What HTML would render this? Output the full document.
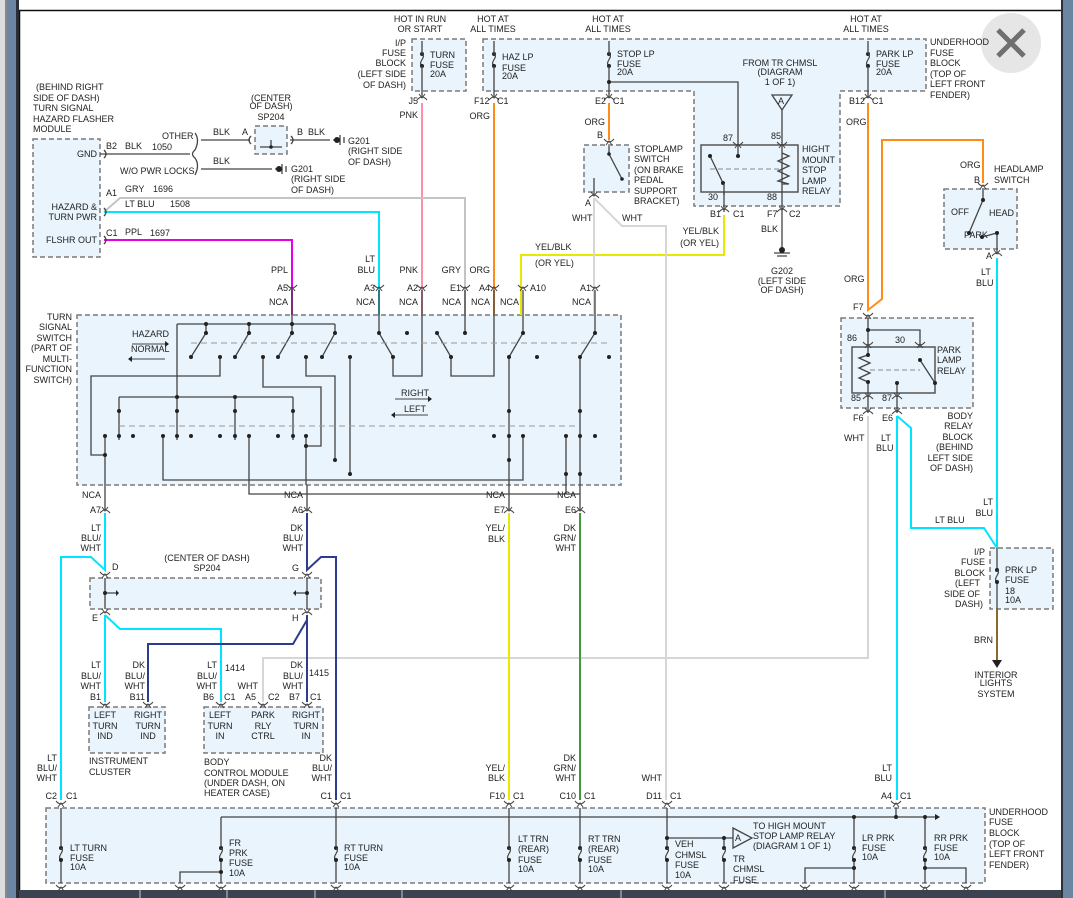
<!DOCTYPE html>
<html><head><meta charset="utf-8"><style>
html,body{margin:0;padding:0;background:#fff;}
svg{display:block;}
text{font-family:"Liberation Sans",sans-serif;font-size:9px;fill:#222;}
.b{fill:#e9f4fc;stroke:#7a7a7a;stroke-width:1.5;stroke-dasharray:5,3;}
.k{stroke:#444;stroke-width:1.3;fill:none;}
.w{fill:none;stroke-width:2;}
.d{fill:#222;}
</style></head><body>
<svg width="1073" height="898" viewBox="0 0 1073 898" xmlns="http://www.w3.org/2000/svg">
<defs>
<g id="c"><path d="M-5,3 Q0,-3 5,3 M-3,-3 L0,1 L3,-3" fill="none" stroke="#444" stroke-width="1"/></g>
<g id="cu"><path d="M-5,-3 Q0,3 5,-3 M-3,3 L0,-1 L3,3" fill="none" stroke="#444" stroke-width="1"/></g>
<g id="f"><circle cx="0" cy="0" r="2" fill="#222"/><path d="M0,0 C5,3 -5,8 0,12" fill="none" stroke="#444" stroke-width="1.2"/><circle cx="0" cy="12" r="2" fill="#222"/></g>
</defs>
<!-- frame -->
<rect x="0" y="0" width="1073" height="898" fill="#fff"/>
<rect x="0" y="0" width="5" height="898" fill="#ddd"/>
<rect x="5" y="0" width="2" height="898" fill="#888"/>
<rect x="7" y="0" width="9" height="898" fill="#6b86a3"/>
<rect x="16" y="0" width="3" height="898" fill="#2a2f38"/>
<line x1="19" y1="10.5" x2="1062" y2="10.5" stroke="#111" stroke-width="1.5"/>
<line x1="19.5" y1="10" x2="19.5" y2="898" stroke="#111" stroke-width="1.5"/>
<rect x="1061" y="0" width="2" height="898" fill="#2a2f38"/>
<rect x="1063" y="0" width="10" height="898" fill="#6b86a3"/>
<rect x="19" y="890" width="1042" height="8" fill="#3b4350"/>
<line x1="140" y1="890" x2="140" y2="898" stroke="#ccc"/><line x1="227" y1="890" x2="227" y2="898" stroke="#ccc"/><line x1="315" y1="890" x2="315" y2="898" stroke="#ccc"/><line x1="402" y1="890" x2="402" y2="898" stroke="#ccc"/><line x1="621" y1="890" x2="621" y2="898" stroke="#ccc"/><line x1="885" y1="890" x2="885" y2="898" stroke="#ccc"/>

<!-- boxes -->
<rect class="b" x="412" y="39" width="54" height="52"/>
<path class="b" d="M483,39 L926,39 L926,91 L840,91 L840,206 L694,206 L694,91 L483,91 Z"/>
<rect class="b" x="33" y="139" width="67" height="118"/>
<rect class="b" x="255" y="126" width="32" height="28"/>
<rect class="b" x="584" y="145" width="45" height="47"/>
<rect x="701" y="145" width="97" height="47" fill="#e9f4fc" stroke="#555" stroke-width="1.5"/>
<rect class="b" x="944" y="189" width="73" height="60"/>
<rect class="b" x="77" y="315" width="544" height="170"/>
<rect class="b" x="841" y="318" width="132" height="90"/>
<rect x="852" y="347" width="83" height="46" fill="#e9f4fc" stroke="#555" stroke-width="1.5"/>
<rect class="b" x="990" y="548" width="63" height="61"/>
<rect class="b" x="90" y="578" width="231" height="31"/>
<rect class="b" x="89" y="707" width="76" height="46"/>
<rect class="b" x="204" y="707" width="119" height="46"/>
<rect class="b" x="46" y="808" width="939" height="75"/>

<!-- close button -->
<circle cx="1011" cy="43" r="30" fill="#e6e6e6"/>
<path d="M998,30 L1024,56 M1024,30 L998,56" stroke="#6f6f6f" stroke-width="5"/>

<!-- colored wires -->
<path class="w" stroke="#ff8fa8" d="M422,103 V315"/>
<path class="w" stroke="#ff8c1a" d="M494,103 V315"/>
<path class="w" stroke="#ff8c1a" d="M609,103 V140"/>
<path class="w" stroke="#ff8c1a" d="M868,103 V310 L882,299 V140 H983 V183"/>
<path class="w" stroke="#c4c4c4" d="M104,212 L120,198 H465 V315"/>
<path class="w" stroke="#00e5ff" d="M104,212 H379 V315"/>
<path class="w" stroke="#e600e6" d="M104,240 H292 V315"/>
<path class="w" stroke="#e8e800" d="M724,215 V255 H521 V315"/>
<path class="w" stroke="#d6d6d6" d="M594,198 V315 M594,198 L622,226 H666 V800"/>
<path class="w" stroke="#d6d6d6" d="M868,416 V658 H263 V702"/>
<path class="w" stroke="#00e5ff" d="M997,258 V548 M897,416 V800 M897,416 L911,428 V528 H984 L997,548"/>
<path class="w" stroke="#8a6a2a" d="M997,609 V660"/>
<path class="w" stroke="#00e5ff" d="M105,513 V570 L91,557 H61 V800 M105,615 V702 M105,615 L120,629 H221 V702"/>
<path class="w" stroke="#2d3c8c" d="M307,513 V570 L321,557 H336 V800 M307,615 V702 M307,620 L293,644 H148 V702"/>
<path class="w" stroke="#e8e800" d="M509,513 V800"/>
<path class="w" stroke="#3f9a3f" d="M580,513 V800"/>
<path class="k" d="M105,485 V510 M307,485 V510 M509,485 V510 M580,485 V510" stroke-width="2"/>
<path class="k" d="M292,290 V315 M379,290 V315 M422,290 V315 M465,290 V315 M494,290 V315 M523,290 V315 M595,290 V315" stroke-width="1.8"/>

<!-- black wires -->
<path class="k" d="M100,154 H190 M201,140 H250 M290,140 H330 M201,169 H272"/>
<path class="k" d="M195,133 Q200,140 195,150 Q190,154 195,158 Q200,165 195,175"/>
<path class="k" d="M271,140 V147 M260,147 H282"/>
<circle cx="271" cy="147" r="1.8" class="d"/>
<path class="k" d="M333,140 H337 M340,135 V145 M344,137 V143" stroke-width="2"/><circle cx="337" cy="140" r="3" class="d"/>
<path class="k" d="M275,169 H279 M282,164 V174 M286,166 V172" stroke-width="2"/><circle cx="279" cy="169" r="3" class="d"/>
<use href="#f" x="422" y="54"/><path class="k" d="M422,41 V54 M422,66 V97"/>
<use href="#f" x="494" y="54"/><path class="k" d="M494,41 V54 M494,66 V97"/>
<use href="#f" x="609" y="54"/><path class="k" d="M609,41 V54 M609,66 V97 M609,82 H738 V145"/><circle cx="609" cy="82" r="2" class="d"/>
<use href="#f" x="868" y="54"/><path class="k" d="M868,41 V54 M868,66 V97"/>
<path class="k" d="M782,110 V145 M772,95 H792 L782,110 Z"/><text x="778" y="104" font-size="8">A</text>
<path class="k" d="M782,192 V252 M774,253 H790 M777,256 H787"/><circle cx="782" cy="250" r="3" class="d"/>
<path class="k" d="M724,192 V212"/>
<!-- relay internals -->
<path class="k" d="M710,156 L723,183 M738,145 V156 M782,145 V192"/><circle cx="710" cy="156" r="2" class="d"/><circle cx="723" cy="183" r="2" class="d"/><circle cx="738" cy="156" r="2" class="d"/>
<path d="M710,169 H782" stroke="#888" stroke-dasharray="5,3"/>
<path class="k" d="M782,153 L789,156 L778,161 L789,166 L778,171 L789,176 L778,181 L789,184 L782,184"/>
<path class="k" d="M724,183 V195"/>
<!-- stoplamp switch -->
<path class="k" d="M609,146 V154 L622,179 M594,178 V195"/><circle cx="609" cy="154" r="1.8" class="d"/><circle cx="622" cy="179" r="1.8" class="d"/>
<!-- headlamp switch -->
<path class="k" d="M983,188 V200 L969,233 M982,237 L997,233 V253"/><circle cx="983" cy="200" r="2" class="d"/><circle cx="969" cy="233" r="2" class="d"/><circle cx="982" cy="237" r="2" class="d"/><circle cx="997" cy="233" r="2" class="d"/>
<!-- park relay -->
<path class="k" d="M868,318 V347 M868,330 H920 V347 M868,393 V413 M897,393 V413 M920,360 L935,383 M897,383 V393"/><circle cx="868" cy="330" r="2" class="d"/><circle cx="920" cy="360" r="2" class="d"/><circle cx="935" cy="383" r="2" class="d"/><circle cx="897" cy="383" r="2" class="d"/>
<path class="k" d="M868,355 L859,358 L870,363 L859,368 L870,373 L859,378 L868,382 M868,355 V347 M868,382 V393"/>
<circle cx="868" cy="355" r="2" class="d"/><circle cx="868" cy="382" r="2" class="d"/>
<path d="M870,370 H920" stroke="#888" stroke-dasharray="5,3"/>
<!-- IP fuse block -->
<path class="k" d="M997,548 V570 M997,582 V609"/><use href="#f" x="997" y="570"/>
<path d="M992,660 L1002,660 L997,668 Z" fill="#222"/>
<!-- SP204 center -->
<path class="k" d="M105,578 V609 M105,593 H116 M307,578 V609 M307,593 H296"/><circle cx="105" cy="593" r="2" class="d"/><circle cx="307" cy="593" r="2" class="d"/>
<path d="M116,590 L119,593 L116,596Z M296,590 L293,593 L296,596Z" fill="#222"/>

<!-- turn signal switch internals -->
<g class="k" fill="none">
<path d="M177,324 H335 M206,324 V333 L191,357 M249,324 V333 L235,357 M292,315 V333 L278,357 M335,324 V333 L322,357"/>
<path d="M379,315 V333 L393,357 V376 H422 V315 M437,333 L451,357 V376 H494 V315 M465,315 V333 M523,315 V333 L509,357 M595,315 V333 L580,357"/>
<path d="M177,324 V440 M119,397 H293 M119,397 V440 M235,397 V440 M293,397 V440"/>
<path d="M220,357 V376 H91 V455 H105 M105,436 V485"/>
<path d="M263,357 V387 H321 V446 H306 M306,436 V485"/>
<path d="M306,357 V376 H335 V460 M163,436 V480 H523 V436"/>
<path d="M350,357 V474 M249,436 V494 H580 M566,436 V494"/>
<path d="M509,357 V485 M580,357 V485"/>
</g>
<path d="M191,343 H608 M119,426 H579" stroke="#999" stroke-dasharray="6,4" fill="none"/>
<g class="d">
<circle cx="206" cy="324" r="2"/><circle cx="249" cy="324" r="2"/><circle cx="292" cy="324" r="2"/><circle cx="206" cy="333" r="2"/><circle cx="249" cy="333" r="2"/><circle cx="292" cy="333" r="2"/><circle cx="335" cy="333" r="2"/>
<circle cx="191" cy="357" r="2"/><circle cx="220" cy="357" r="2"/><circle cx="235" cy="357" r="2"/><circle cx="263" cy="357" r="2"/><circle cx="278" cy="357" r="2"/><circle cx="306" cy="357" r="2"/><circle cx="322" cy="357" r="2"/><circle cx="350" cy="357" r="2"/>
<circle cx="379" cy="333" r="2"/><circle cx="407" cy="333" r="2"/><circle cx="393" cy="357" r="2"/><circle cx="437" cy="333" r="2"/><circle cx="451" cy="357" r="2"/><circle cx="465" cy="333" r="2"/><circle cx="523" cy="333" r="2"/><circle cx="509" cy="357" r="2"/><circle cx="537" cy="357" r="2"/><circle cx="595" cy="333" r="2"/><circle cx="580" cy="357" r="2"/><circle cx="609" cy="357" r="2"/>
<circle cx="177" cy="397" r="2"/><circle cx="235" cy="397" r="2"/><circle cx="119" cy="411" r="2"/><circle cx="177" cy="411" r="2"/><circle cx="235" cy="411" r="2"/><circle cx="293" cy="411" r="2"/><circle cx="509" cy="411" r="2"/><circle cx="580" cy="411" r="2"/>
<circle cx="105" cy="436" r="2"/><circle cx="119" cy="436" r="2"/><circle cx="133" cy="436" r="2"/><circle cx="163" cy="436" r="2"/><circle cx="177" cy="436" r="2"/><circle cx="191" cy="436" r="2"/><circle cx="220" cy="436" r="2"/><circle cx="235" cy="436" r="2"/><circle cx="249" cy="436" r="2"/><circle cx="278" cy="436" r="2"/><circle cx="293" cy="436" r="2"/><circle cx="306" cy="436" r="2"/><circle cx="494" cy="436" r="2"/><circle cx="509" cy="436" r="2"/><circle cx="523" cy="436" r="2"/><circle cx="566" cy="436" r="2"/><circle cx="580" cy="436" r="2"/><circle cx="595" cy="436" r="2"/>
<circle cx="105" cy="455" r="2"/><circle cx="306" cy="446" r="2"/><circle cx="335" cy="460" r="2"/><circle cx="509" cy="460" r="2"/><circle cx="350" cy="474" r="2"/><circle cx="566" cy="474" r="2"/><circle cx="580" cy="474" r="2"/>
</g>
<path d="M132,344 H165 M132,359 H165 M395,399 H428 M395,415 H428" stroke="#444" fill="none"/>
<path d="M165,341 L169,344 L165,347Z M132,356 L128,359 L132,362Z M428,396 L432,399 L428,402Z M395,412 L391,415 L395,418Z" fill="#222"/>

<!-- bottom fuse block internals -->
<path class="k" d="M221,817 H935 M61,808 V883 M221,817 V883 M336,808 V883 M509,808 V883 M580,808 V883 M667,808 V883 M667,838 H724 V883 M854,817 V883 M925,817 V883 M896,808 V817 M180,883 V872 H221 M805,883 V868 H854 M925,868 H966 V883"/>
<path d="M935,814 L940,817 L935,820Z" fill="#222"/>
<path class="k" d="M724,838 H733 M733,828 L752,838 L733,848 Z"/><text x="735" y="841" font-size="8">A</text>
<g fill="#e9f4fc"><rect x="56" y="846" width="10" height="16"/><rect x="216" y="846" width="10" height="16"/><rect x="331" y="846" width="10" height="16"/><rect x="504" y="846" width="10" height="16"/><rect x="575" y="846" width="10" height="16"/><rect x="662" y="846" width="10" height="16"/><rect x="719" y="846" width="10" height="16"/><rect x="849" y="846" width="10" height="16"/><rect x="920" y="846" width="10" height="16"/></g>
<use href="#f" x="61" y="848"/><use href="#f" x="221" y="848"/><use href="#f" x="336" y="848"/><use href="#f" x="509" y="848"/><use href="#f" x="580" y="848"/><use href="#f" x="667" y="848"/><use href="#f" x="724" y="848"/><use href="#f" x="854" y="848"/><use href="#f" x="925" y="848"/>
<g class="d"><circle cx="221" cy="872" r="2"/><circle cx="854" cy="817" r="2"/><circle cx="925" cy="817" r="2"/><circle cx="896" cy="817" r="2"/><circle cx="667" cy="838" r="2"/><circle cx="724" cy="838" r="2"/><circle cx="854" cy="868" r="2"/><circle cx="925" cy="868" r="2"/></g>

<!-- connectors -->
<use href="#c" x="422" y="97"/><use href="#c" x="494" y="97"/><use href="#c" x="609" y="97"/><use href="#c" x="868" y="97"/>
<use href="#cu" x="609" y="142"/><use href="#c" x="594" y="195"/><use href="#c" x="724" y="209"/><use href="#c" x="782" y="209"/>
<use href="#cu" x="738" y="145"/><use href="#cu" x="782" y="145"/><use href="#cu" x="983" y="186"/><use href="#c" x="997" y="253"/>
<use href="#cu" x="292" y="288"/><use href="#cu" x="379" y="288"/><use href="#cu" x="422" y="288"/><use href="#cu" x="465" y="288"/><use href="#cu" x="494" y="288"/><use href="#cu" x="523" y="288"/><use href="#cu" x="595" y="288"/>
<use href="#c" x="105" y="510"/><use href="#c" x="307" y="510"/><use href="#c" x="509" y="510"/><use href="#c" x="580" y="510"/>
<use href="#cu" x="868" y="316"/><use href="#cu" x="868" y="345"/><use href="#cu" x="920" y="345"/><use href="#c" x="868" y="396"/><use href="#c" x="897" y="396"/><use href="#c" x="868" y="411"/><use href="#c" x="897" y="411"/>
<use href="#cu" x="105" y="575"/><use href="#cu" x="307" y="575"/><use href="#c" x="105" y="612"/><use href="#c" x="307" y="612"/>
<use href="#cu" x="105" y="705"/><use href="#cu" x="148" y="705"/><use href="#cu" x="221" y="705"/><use href="#cu" x="263" y="705"/><use href="#cu" x="307" y="705"/>
<use href="#cu" x="61" y="804"/><use href="#cu" x="336" y="804"/><use href="#cu" x="509" y="804"/><use href="#cu" x="580" y="804"/><use href="#cu" x="667" y="804"/><use href="#cu" x="896" y="804"/>
<use href="#cu" x="61" y="888"/><use href="#cu" x="180" y="888"/><use href="#cu" x="221" y="888"/><use href="#cu" x="336" y="888"/><use href="#cu" x="509" y="888"/><use href="#cu" x="580" y="888"/><use href="#cu" x="667" y="888"/><use href="#cu" x="724" y="888"/><use href="#cu" x="805" y="888"/><use href="#cu" x="854" y="888"/><use href="#cu" x="925" y="888"/><use href="#cu" x="966" y="888"/>
<path class="k" d="M104,150 Q108,154 104,158 M104,208 Q108,212 104,216 M104,236 Q108,240 104,244 M251,136 Q247,140 251,144 M291,136 Q295,140 291,144"/>

<!-- TEXT -->
<g>
<text x="420" y="22" text-anchor="middle">HOT IN RUN</text><text x="420" y="32" text-anchor="middle">OR START</text>
<text x="493" y="22" text-anchor="middle">HOT AT</text><text x="493" y="32" text-anchor="middle">ALL TIMES</text>
<text x="608" y="22" text-anchor="middle">HOT AT</text><text x="608" y="32" text-anchor="middle">ALL TIMES</text>
<text x="866" y="22" text-anchor="middle">HOT AT</text><text x="866" y="32" text-anchor="middle">ALL TIMES</text>
<text x="406" y="46" text-anchor="end">I/P</text><text x="406" y="56" text-anchor="end">FUSE</text><text x="406" y="66" text-anchor="end">BLOCK</text><text x="406" y="77" text-anchor="end">(LEFT SIDE</text><text x="406" y="88" text-anchor="end">OF DASH)</text>
<text x="430" y="58">TURN</text><text x="430" y="68">FUSE</text><text x="430" y="77">20A</text>
<text x="502" y="60">HAZ LP</text><text x="502" y="71">FUSE</text><text x="502" y="79">20A</text>
<text x="617" y="57">STOP LP</text><text x="617" y="67">FUSE</text><text x="617" y="75">20A</text>
<text x="876" y="57">PARK LP</text><text x="876" y="67">FUSE</text><text x="876" y="75">20A</text>
<text x="930" y="45">UNDERHOOD</text><text x="930" y="56">FUSE</text><text x="930" y="66">BLOCK</text><text x="930" y="77">(TOP OF</text><text x="930" y="87">LEFT FRONT</text><text x="930" y="98">FENDER)</text>
<text x="780" y="66" text-anchor="middle">FROM TR CHMSL</text><text x="780" y="75" text-anchor="middle">(DIAGRAM</text><text x="780" y="85" text-anchor="middle">1 OF 1)</text>
<text x="418" y="104" text-anchor="end">J5</text><text x="474" y="104">F12</text><text x="497" y="104">C1</text>
<text x="595" y="104">E2</text><text x="613" y="104">C1</text><text x="849" y="104">B12</text><text x="872" y="104">C1</text>
<text x="418" y="118" text-anchor="end">PNK</text><text x="490" y="119" text-anchor="end">ORG</text><text x="605" y="125" text-anchor="end">ORG</text><text x="603" y="138" text-anchor="end">B</text><text x="846" y="125">ORG</text>
<text x="733" y="141" text-anchor="end">87</text><text x="771" y="139">85</text><text x="708" y="200">30</text><text x="767" y="200">88</text>
<text x="802" y="152">HIGHT</text><text x="802" y="163">MOUNT</text><text x="802" y="173">STOP</text><text x="802" y="184">LAMP</text><text x="802" y="194">RELAY</text>
<text x="634" y="152">STOPLAMP</text><text x="634" y="162">SWITCH</text><text x="634" y="173">(ON BRAKE</text><text x="634" y="183">PEDAL</text><text x="634" y="194">SUPPORT</text><text x="634" y="204">BRACKET)</text>
<text x="585" y="206">A</text><text x="572" y="221">WHT</text><text x="622" y="221">WHT</text>
<text x="710" y="217">B1</text><text x="733" y="217">C1</text><text x="767" y="217">F7</text><text x="789" y="217">C2</text>
<text x="761" y="232">BLK</text>
<text x="719" y="234" text-anchor="end">YEL/BLK</text><text x="719" y="246" text-anchor="end">(OR YEL)</text>
<text x="535" y="250">YEL/BLK</text><text x="535" y="266">(OR YEL)</text>
<text x="782" y="274" text-anchor="middle">G202</text><text x="782" y="284" text-anchor="middle">(LEFT SIDE</text><text x="782" y="293" text-anchor="middle">OF DASH)</text>
<text x="960" y="168">ORG</text><text x="974" y="183">B</text><text x="994" y="172">HEADLAMP</text><text x="994" y="183">SWITCH</text>
<text x="951" y="215">OFF</text><text x="989" y="216">HEAD</text><text x="964" y="238">PARK</text>
<text x="986" y="259">A</text><text x="981" y="275">LT</text><text x="976" y="286">BLU</text>
<text x="844" y="282">ORG</text><text x="853" y="310">F7</text>
<text x="36" y="90">(BEHIND RIGHT</text><text x="33" y="101">SIDE OF DASH)</text><text x="33" y="111">TURN SIGNAL</text><text x="33" y="122">HAZARD FLASHER</text><text x="33" y="132">MODULE</text>
<text x="97" y="157" text-anchor="end">GND</text><text x="97" y="210" text-anchor="end">HAZARD &amp;</text><text x="97" y="220" text-anchor="end">TURN PWR</text><text x="97" y="243" text-anchor="end">FLSHR OUT</text>
<text x="106" y="149">B2</text><text x="125" y="149">BLK</text><text x="152" y="150">1050</text>
<text x="106" y="196">A1</text><text x="125" y="192">GRY</text><text x="153" y="192">1696</text>
<text x="125" y="207">LT BLU</text><text x="170" y="207">1508</text>
<text x="106" y="236">C1</text><text x="125" y="235">PPL</text><text x="150" y="236">1697</text>
<text x="162" y="139">OTHER</text><text x="120" y="174">W/O PWR LOCKS</text>
<text x="213" y="135">BLK</text><text x="213" y="164">BLK</text><text x="242" y="135">A</text><text x="297" y="135">B</text><text x="308" y="135">BLK</text>
<text x="271" y="101" text-anchor="middle">(CENTER</text><text x="271" y="109" text-anchor="middle">OF DASH)</text><text x="271" y="120" text-anchor="middle">SP204</text>
<text x="348" y="144">G201</text><text x="348" y="154">(RIGHT SIDE</text><text x="348" y="165">OF DASH)</text>
<text x="291" y="172">G201</text><text x="291" y="182">(RIGHT SIDE</text><text x="291" y="193">OF DASH)</text>
<text x="288" y="273" text-anchor="end">PPL</text><text x="375" y="262" text-anchor="end">LT</text><text x="375" y="273" text-anchor="end">BLU</text><text x="418" y="273" text-anchor="end">PNK</text><text x="461" y="273" text-anchor="end">GRY</text><text x="490" y="273" text-anchor="end">ORG</text>
<text x="288" y="291" text-anchor="end">A5</text><text x="375" y="291" text-anchor="end">A3</text><text x="418" y="291" text-anchor="end">A2</text><text x="461" y="291" text-anchor="end">E1</text><text x="490" y="291" text-anchor="end">A4</text><text x="530" y="291">A10</text><text x="591" y="291" text-anchor="end">A1</text>
<text x="288" y="305" text-anchor="end">NCA</text><text x="375" y="305" text-anchor="end">NCA</text><text x="418" y="305" text-anchor="end">NCA</text><text x="461" y="305" text-anchor="end">NCA</text><text x="490" y="305" text-anchor="end">NCA</text><text x="519" y="305" text-anchor="end">NCA</text><text x="591" y="305" text-anchor="end">NCA</text>
<text x="72" y="320" text-anchor="end">TURN</text><text x="72" y="330" text-anchor="end">SIGNAL</text><text x="72" y="341" text-anchor="end">SWITCH</text><text x="72" y="351" text-anchor="end">(PART OF</text><text x="72" y="362" text-anchor="end">MULTI-</text><text x="72" y="372" text-anchor="end">FUNCTION</text><text x="72" y="383" text-anchor="end">SWITCH)</text>
<text x="132" y="337">HAZARD</text><text x="131" y="352">NORMAL</text><text x="401" y="396">RIGHT</text><text x="404" y="412">LEFT</text>
<text x="847" y="341">86</text><text x="895" y="343">30</text><text x="851" y="401">85</text><text x="882" y="401">87</text>
<text x="937" y="353">PARK</text><text x="937" y="363">LAMP</text><text x="937" y="374">RELAY</text>
<text x="853" y="421">F6</text><text x="882" y="421">E6</text>
<text x="973" y="419" text-anchor="end">BODY</text><text x="973" y="429" text-anchor="end">RELAY</text><text x="973" y="440" text-anchor="end">BLOCK</text><text x="973" y="450" text-anchor="end">(BEHIND</text><text x="973" y="461" text-anchor="end">LEFT SIDE</text><text x="973" y="471" text-anchor="end">OF DASH)</text>
<text x="844" y="441">WHT</text><text x="881" y="441">LT</text><text x="876" y="451">BLU</text>
<text x="101" y="498" text-anchor="end">NCA</text><text x="303" y="498" text-anchor="end">NCA</text><text x="505" y="498" text-anchor="end">NCA</text><text x="576" y="498" text-anchor="end">NCA</text>
<text x="101" y="513" text-anchor="end">A7</text><text x="303" y="513" text-anchor="end">A6</text><text x="505" y="513" text-anchor="end">E7</text><text x="576" y="513" text-anchor="end">E6</text>
<text x="101" y="531" text-anchor="end">LT</text><text x="101" y="541" text-anchor="end">BLU/</text><text x="101" y="551" text-anchor="end">WHT</text>
<text x="303" y="531" text-anchor="end">DK</text><text x="303" y="541" text-anchor="end">BLU/</text><text x="303" y="551" text-anchor="end">WHT</text>
<text x="505" y="531" text-anchor="end">YEL/</text><text x="505" y="542" text-anchor="end">BLK</text>
<text x="576" y="531" text-anchor="end">DK</text><text x="576" y="541" text-anchor="end">GRN/</text><text x="576" y="551" text-anchor="end">WHT</text>
<text x="207" y="561" text-anchor="middle">(CENTER OF DASH)</text><text x="207" y="571" text-anchor="middle">SP204</text>
<text x="112" y="570">D</text><text x="292" y="571">G</text><text x="92" y="621">E</text><text x="292" y="621">H</text>
<text x="993" y="505" text-anchor="end">LT</text><text x="993" y="516" text-anchor="end">BLU</text><text x="935" y="523">LT BLU</text>
<text x="985" y="555" text-anchor="end">I/P</text><text x="985" y="565" text-anchor="end">FUSE</text><text x="985" y="576" text-anchor="end">BLOCK</text><text x="980" y="586" text-anchor="end">(LEFT</text><text x="980" y="597" text-anchor="end">SIDE OF</text><text x="983" y="607" text-anchor="end">DASH)</text>
<text x="1005" y="573">PRK LP</text><text x="1005" y="583">FUSE</text><text x="1005" y="594">18</text><text x="1005" y="603">10A</text>
<text x="993" y="643" text-anchor="end">BRN</text>
<text x="996" y="678" text-anchor="middle">INTERIOR</text><text x="996" y="686" text-anchor="middle">LIGHTS</text><text x="996" y="697" text-anchor="middle">SYSTEM</text>
<text x="101" y="668" text-anchor="end">LT</text><text x="101" y="679" text-anchor="end">BLU/</text><text x="101" y="689" text-anchor="end">WHT</text><text x="101" y="700" text-anchor="end">B1</text>
<text x="145" y="668" text-anchor="end">DK</text><text x="145" y="679" text-anchor="end">BLU/</text><text x="145" y="689" text-anchor="end">WHT</text><text x="145" y="700" text-anchor="end">B11</text>
<text x="217" y="668" text-anchor="end">LT</text><text x="217" y="679" text-anchor="end">BLU/</text><text x="217" y="689" text-anchor="end">WHT</text><text x="214" y="700" text-anchor="end">B6</text><text x="224" y="700">C1</text><text x="225" y="671">1414</text>
<text x="258" y="689" text-anchor="end">WHT</text><text x="256" y="700" text-anchor="end">A5</text><text x="268" y="700">C2</text>
<text x="303" y="668" text-anchor="end">DK</text><text x="303" y="679" text-anchor="end">BLU/</text><text x="303" y="689" text-anchor="end">WHT</text><text x="300" y="700" text-anchor="end">B7</text><text x="310" y="700">C1</text><text x="309" y="676">1415</text>
<text x="105" y="718" text-anchor="middle">LEFT</text><text x="105" y="729" text-anchor="middle">TURN</text><text x="105" y="739" text-anchor="middle">IND</text>
<text x="148" y="718" text-anchor="middle">RIGHT</text><text x="148" y="729" text-anchor="middle">TURN</text><text x="148" y="739" text-anchor="middle">IND</text>
<text x="220" y="718" text-anchor="middle">LEFT</text><text x="220" y="729" text-anchor="middle">TURN</text><text x="220" y="739" text-anchor="middle">IN</text>
<text x="263" y="718" text-anchor="middle">PARK</text><text x="263" y="729" text-anchor="middle">RLY</text><text x="263" y="739" text-anchor="middle">CTRL</text>
<text x="306" y="718" text-anchor="middle">RIGHT</text><text x="306" y="729" text-anchor="middle">TURN</text><text x="306" y="739" text-anchor="middle">IN</text>
<text x="89" y="764">INSTRUMENT</text><text x="89" y="775">CLUSTER</text>
<text x="204" y="765">BODY</text><text x="204" y="776">CONTROL MODULE</text><text x="204" y="786">(UNDER DASH, ON</text><text x="204" y="796">HEATER CASE)</text>
<text x="332" y="761" text-anchor="end">DK</text><text x="332" y="771" text-anchor="end">BLU/</text><text x="332" y="781" text-anchor="end">WHT</text>
<text x="57" y="761" text-anchor="end">LT</text><text x="57" y="771" text-anchor="end">BLU/</text><text x="57" y="781" text-anchor="end">WHT</text>
<text x="505" y="771" text-anchor="end">YEL/</text><text x="505" y="781" text-anchor="end">BLK</text>
<text x="576" y="761" text-anchor="end">DK</text><text x="576" y="771" text-anchor="end">GRN/</text><text x="576" y="781" text-anchor="end">WHT</text>
<text x="662" y="781" text-anchor="end">WHT</text><text x="892" y="771" text-anchor="end">LT</text><text x="892" y="781" text-anchor="end">BLU</text>
<text x="57" y="799" text-anchor="end">C2</text><text x="66" y="799">C1</text><text x="332" y="799" text-anchor="end">C1</text><text x="340" y="799">C1</text>
<text x="505" y="799" text-anchor="end">F10</text><text x="513" y="799">C1</text><text x="576" y="799" text-anchor="end">C10</text><text x="584" y="799">C1</text>
<text x="662" y="799" text-anchor="end">D11</text><text x="670" y="799">C1</text><text x="892" y="799" text-anchor="end">A4</text><text x="900" y="799">C1</text>
<text x="989" y="815">UNDERHOOD</text><text x="989" y="825">FUSE</text><text x="989" y="836">BLOCK</text><text x="989" y="847">(TOP OF</text><text x="989" y="857">LEFT FRONT</text><text x="989" y="868">FENDER)</text>
<text x="70" y="851">LT TURN</text><text x="70" y="861">FUSE</text><text x="70" y="870">10A</text>
<text x="229" y="846">FR</text><text x="229" y="856">PRK</text><text x="229" y="866">FUSE</text><text x="229" y="876">10A</text>
<text x="344" y="851">RT TURN</text><text x="344" y="861">FUSE</text><text x="344" y="870">10A</text>
<text x="518" y="842">LT TRN</text><text x="518" y="852">(REAR)</text><text x="518" y="863">FUSE</text><text x="518" y="872">10A</text>
<text x="588" y="842">RT TRN</text><text x="588" y="852">(REAR)</text><text x="588" y="863">FUSE</text><text x="588" y="872">10A</text>
<text x="675" y="847">VEH</text><text x="675" y="858">CHMSL</text><text x="675" y="868">FUSE</text><text x="675" y="878">10A</text>
<text x="733" y="862">TR</text><text x="733" y="872">CHMSL</text><text x="733" y="883">FUSE</text>
<text x="753" y="829">TO HIGH MOUNT</text><text x="753" y="839">STOP LAMP RELAY</text><text x="753" y="849">(DIAGRAM 1 OF 1)</text>
<text x="862" y="841">LR PRK</text><text x="862" y="851">FUSE</text><text x="862" y="860">10A</text>
<text x="934" y="841">RR PRK</text><text x="934" y="851">FUSE</text><text x="934" y="860">10A</text>
</g>
</svg>
</body></html>
